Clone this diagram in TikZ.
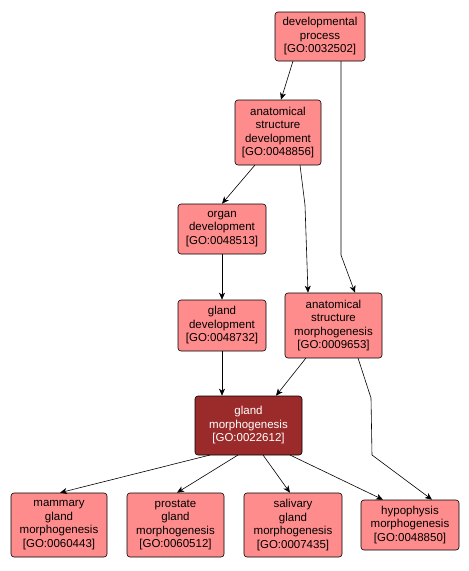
\documentclass[tikz,border=0pt]{standalone}
\usepackage{fontspec}
\setmainfont{Liberation Sans}
\usepackage{tikz}
\usetikzlibrary{arrows.meta,calc}
\definecolor{goterm}{HTML}{FF8C8C}
\definecolor{goroot}{HTML}{9B2B2B}
\definecolor{edge}{HTML}{000000}
\tikzset{
  >={Stealth[length=7pt,width=6pt,inset=2pt]},
  term/.style={draw=black,rounded corners=3pt,line width=0.6pt,fill=goterm,align=center,
    inner sep=2pt,font=\fontsize{11.5}{13.5}\selectfont},
  hit/.style={term,fill=goroot,text=white},
  arr/.style={->,draw=edge,line width=0.6pt},
}
\begin{document}
\begin{tikzpicture}[x=1pt,y=-1pt]
\useasboundingbox (0,0) rectangle (469,571);
% terms
\node[term,minimum width=90pt,minimum height=49pt] (dp) at (320,36.5) {developmental\\process\\{[GO:0032502]}};
\node[term,minimum width=86pt,minimum height=65pt] (asd) at (278,132.5) {anatomical\\structure\\development\\{[GO:0048856]}};
\node[term,minimum width=88pt,minimum height=50pt] (od) at (222,229) {organ\\development\\{[GO:0048513]}};
\node[term,minimum width=88pt,minimum height=51pt] (gd) at (222,325.5) {gland\\development\\{[GO:0048732]}};
\node[term,minimum width=97pt,minimum height=65pt] (asm) at (333.5,325.5) {anatomical\\structure\\morphogenesis\\{[GO:0009653]}};
\node[hit,minimum width=107pt,minimum height=59pt] (gm) at (248.5,425.5) {gland\\morphogenesis\\{[GO:0022612]}};
\node[term,minimum width=96pt,minimum height=64pt] (mgm) at (59,525) {mammary\\gland\\morphogenesis\\{[GO:0060443]}};
\node[term,minimum width=97pt,minimum height=64pt] (pgm) at (175.5,525) {prostate\\gland\\morphogenesis\\{[GO:0060512]}};
\node[term,minimum width=98pt,minimum height=64pt] (sgm) at (293,525) {salivary\\gland\\morphogenesis\\{[GO:0007435]}};
\node[term,minimum width=98pt,minimum height=50pt] (hm) at (410,525) {hypophysis\\morphogenesis\\{[GO:0048850]}};
% edges
\draw[arr] (293,61) -- (asd.north -| 281,0);
\draw[arr] (341,61) -- (341,255) -- (asm.north -| 355,0);
\draw[arr] (255,165) -- (od.north -| 222,0);
\draw[arr] (300,165) -- (305,205) -- (asm.north -| 308,0);
\draw[arr] (od) -- (gd);
\draw[arr] (gd) -- (gm.north -| gd);
\draw[arr] (306,358) -- (gm.north -| 276,0);
\draw[arr] (358,358) -- (371,398) -- (372,455) -- (hm.north -| 432,0);
\draw[arr] (210,455) -- (mgm.north -| 60,0);
\draw[arr] (238,455) -- (pgm.north -| 177,0);
\draw[arr] (263,455) -- (sgm.north -| 290,0);
\draw[arr] (290,455) -- (hm.north -| 383,0);
\end{tikzpicture}
\end{document}
